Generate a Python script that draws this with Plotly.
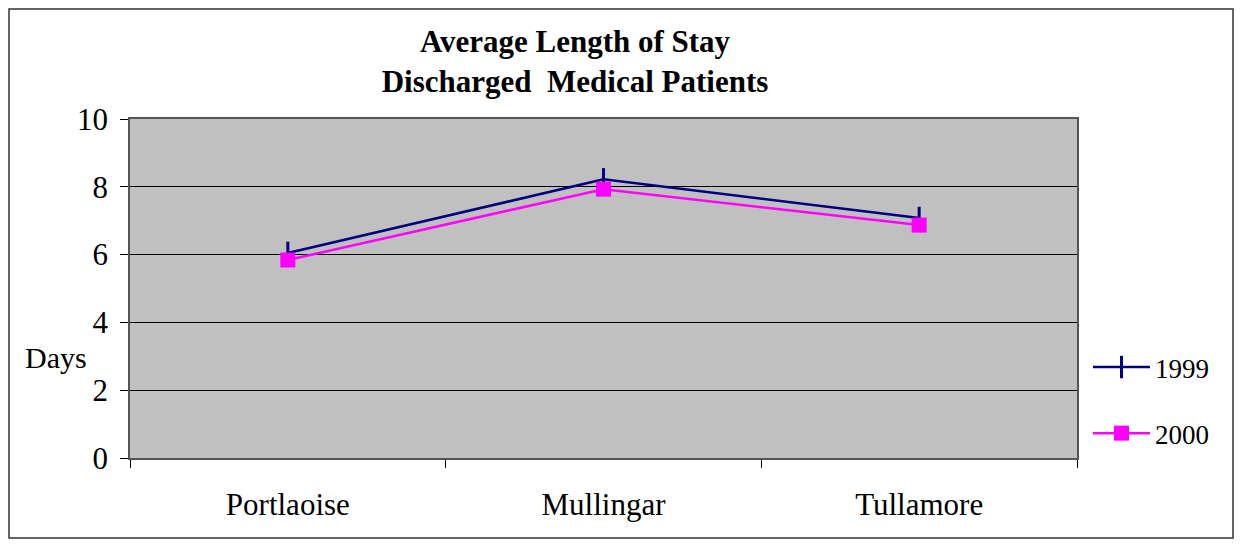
import plotly.graph_objects as go

hospitals = ['Portlaoise', 'Mullingar', 'Tullamore']
stay_1999 = [6.05, 8.22, 7.08]
stay_2000 = [5.84, 7.93, 6.87]

# page is drawn with an 8px body margin, so work in figure pixels
OFF = 8
W, H = 1242 - 2 * OFF, 547 - 2 * OFF
L, T = 130 - OFF, 119 - OFF
R, B = W - (1077 - OFF), H - (458 - OFF)
pw, ph = W - L - R, H - T - B

FONT = 'Liberation Serif, Times New Roman, serif'


def px_x(p):
    return (p - OFF - L) / pw


def px_y(p):
    return (H - B - (p - OFF)) / ph


fig = go.Figure()
fig.add_trace(go.Scatter(
    x=hospitals, y=stay_1999, name='1999', mode='lines+markers',
    legendgroup='a',
    line=dict(color='#000080', width=2.5),
    marker=dict(symbol='line-ns', size=16, line=dict(color='#000080', width=3)),
))
fig.add_trace(go.Scatter(
    x=hospitals, y=stay_2000, name='2000', mode='lines+markers',
    legendgroup='b',
    line=dict(color='#ff00ff', width=2.5),
    marker=dict(symbol='square', size=15, color='#ff00ff'),
))

fig.add_shape(type='rect', xref='paper', yref='paper',
              x0=px_x(OFF + 1), x1=px_x(1242 - OFF - 1),
              y0=px_y(547 - OFF - 1), y1=px_y(OFF + 1),
              line=dict(color='#333', width=1.5), layer='below')

fig.add_annotation(text='Days', xref='paper', yref='paper',
                   x=px_x(56), y=px_y(357), xanchor='center', yanchor='middle',
                   showarrow=False,
                   font=dict(size=30, color='black', family=FONT))

fig.update_layout(
    width=W, height=H,
    margin=dict(l=L, r=R, t=T, b=B),
    paper_bgcolor='white',
    plot_bgcolor='#c0c0c0',
    font=dict(family=FONT, color='black'),
    title=dict(text='<b>Average Length of Stay<br>Discharged  Medical Patients</b>',
               x=px_x(575), xref='paper', xanchor='center',
               y=1 - (52 - OFF) / H, yanchor='middle',
               font=dict(size=31, family=FONT, color='black')),
    legend=dict(x=px_x(1088), y=px_y(343), xanchor='left', yanchor='top',
                font=dict(size=27, family=FONT), tracegroupgap=28,
                itemwidth=57, bgcolor='rgba(0,0,0,0)'),
    showlegend=True,
)
fig.update_xaxes(
    type='category', tickson='boundaries', ticks='outside', ticklen=8,
    tickcolor='black', showgrid=False, showline=True, linecolor='#555',
    linewidth=1.5, mirror=True, tickfont=dict(size=31), range=[-0.5, 2.5],
    ticklabelstandoff=18,
)
fig.update_yaxes(
    range=[0, 10], dtick=2, ticks='outside', ticklen=8, tickcolor='black',
    showgrid=True, gridcolor='black', gridwidth=1, showline=True,
    linecolor='#555', linewidth=1.5, mirror=True, zeroline=False,
    tickfont=dict(size=31), ticklabelstandoff=6,
)

fig.write_html('out.html')
